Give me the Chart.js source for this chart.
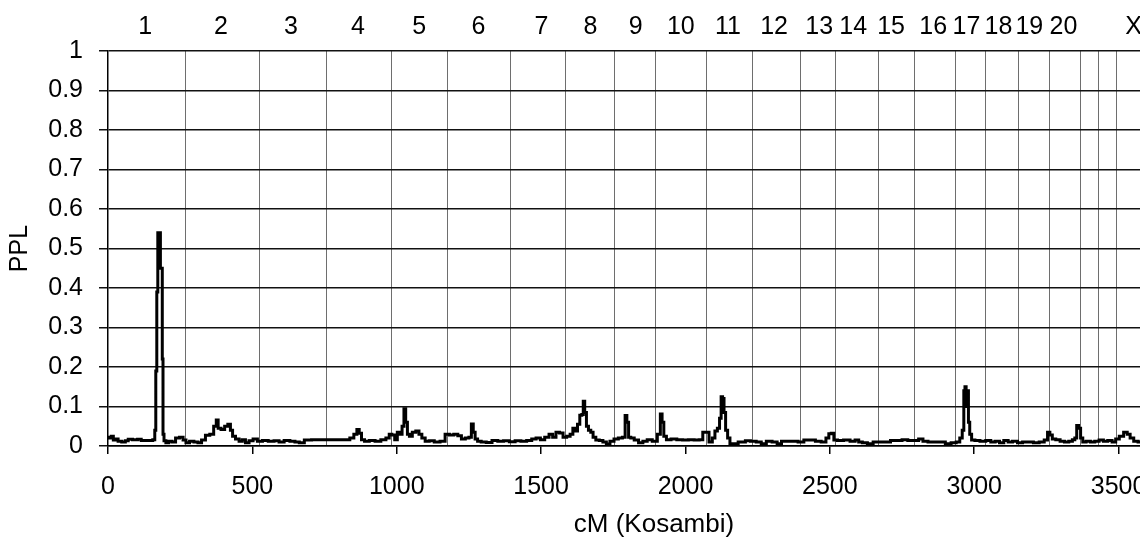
<!DOCTYPE html>
<html>
<head>
<meta charset="utf-8">
<script src="https://cdn.jsdelivr.net/npm/chart.js@4.4.1/dist/chart.umd.min.js"></script>
<style>
  html, body { margin: 0; padding: 0; background: #fff; overflow: hidden; }
  #wrap { position: relative; width: 1200px; height: 542px; }
</style>
</head>
<body>
<div id="wrap"><canvas id="pplChart"></canvas></div>
<script>
// map position (cM, Kosambi) and posterior probability of linkage
const cm = [
  0, 8, 15, 22, 30, 40, 55, 65, 75, 95, 110, 120, 150, 160, 164, 167, 171, 174, 180, 183,
  187, 189, 192, 196, 205, 215, 228, 240, 255, 265, 275, 290, 305, 318, 330, 345, 360, 372, 378, 385,
  398, 410, 420, 428, 435, 448, 460, 470, 482, 495, 510, 525, 545, 565, 585, 600, 620, 640, 655, 670,
  690, 720, 760, 800, 830, 845, 858, 866, 874, 882, 895, 915, 935, 955, 970, 978, 988, 998, 1006, 1015,
  1022, 1028, 1034, 1040, 1048, 1060, 1072, 1082, 1092, 1105, 1120, 1140, 1160, 1175, 1190, 1205, 1218, 1230, 1245, 1255,
  1262, 1268, 1275, 1285, 1300, 1320, 1340, 1360, 1380, 1400, 1420, 1440, 1460, 1475, 1490, 1505, 1520, 1535, 1545, 1558,
  1570, 1582, 1595, 1606, 1614, 1622, 1630, 1638, 1644, 1648, 1654, 1660, 1668, 1676, 1684, 1695, 1708, 1720, 1732, 1745,
  1760, 1775, 1788, 1794, 1800, 1806, 1815, 1830, 1845, 1860, 1875, 1895, 1910, 1916, 1922, 1928, 1940, 1960, 1980, 2000,
  2020, 2040, 2055, 2065, 2075, 2088, 2098, 2106, 2115, 2121, 2126, 2131, 2136, 2142, 2150, 2158, 2175, 2190, 2200, 2215,
  2235, 2255, 2270, 2290, 2310, 2325, 2340, 2360, 2380, 2400, 2420, 2440, 2460, 2480, 2493, 2500, 2510, 2518, 2535, 2560,
  2580, 2595, 2605, 2620, 2640, 2660, 2680, 2700, 2720, 2740, 2760, 2780, 2800, 2815, 2830, 2850, 2870, 2890, 2910, 2930,
  2945, 2955, 2962, 2966, 2970, 2974, 2978, 2982, 2987, 2995, 3010, 3030, 3050, 3065, 3080, 3095, 3110, 3125, 3140, 3160,
  3175, 3195, 3215, 3235, 3250, 3258, 3266, 3275, 3290, 3305, 3320, 3335, 3345, 3352, 3358, 3365, 3372, 3380, 3395, 3410,
  3425, 3440, 3455, 3470, 3485, 3495, 3510, 3525, 3535, 3545, 3560, 3575, 3590
];
const ppl = [
  0.022, 0.02, 0.025, 0.015, 0.018, 0.012, 0.01, 0.013, 0.017, 0.016, 0.017, 0.014, 0.014, 0.016, 0.04, 0.19, 0.39, 0.54, 0.54, 0.45,
  0.45, 0.22, 0.03, 0.013, 0.008, 0.012, 0.01, 0.02, 0.022, 0.015, 0.008, 0.012, 0.01, 0.008, 0.015, 0.027, 0.03, 0.05, 0.066, 0.045,
  0.042, 0.05, 0.055, 0.04, 0.025, 0.018, 0.012, 0.016, 0.008, 0.013, 0.018, 0.012, 0.014, 0.012, 0.013, 0.01, 0.014, 0.012, 0.01, 0.008,
  0.015, 0.016, 0.016, 0.016, 0.016, 0.02, 0.03, 0.042, 0.032, 0.016, 0.012, 0.014, 0.012, 0.016, 0.02, 0.03, 0.028, 0.016, 0.035, 0.03,
  0.05, 0.094, 0.06, 0.03, 0.025, 0.035, 0.038, 0.03, 0.02, 0.012, 0.013, 0.01, 0.012, 0.03, 0.028, 0.03, 0.026, 0.018, 0.02, 0.022,
  0.056, 0.035, 0.018, 0.012, 0.01, 0.009, 0.014, 0.012, 0.013, 0.011, 0.013, 0.012, 0.014, 0.018, 0.02, 0.016, 0.022, 0.03, 0.022, 0.035,
  0.033, 0.022, 0.025, 0.03, 0.045, 0.038, 0.055, 0.078, 0.08, 0.113, 0.085, 0.05, 0.04, 0.035, 0.022, 0.015, 0.014, 0.01, 0.005, 0.012,
  0.018, 0.02, 0.022, 0.077, 0.06, 0.022, 0.02, 0.015, 0.008, 0.012, 0.016, 0.012, 0.03, 0.081, 0.06, 0.025, 0.016, 0.018, 0.016, 0.015,
  0.016, 0.015, 0.016, 0.035, 0.035, 0.01, 0.02, 0.038, 0.045, 0.07, 0.125, 0.12, 0.085, 0.04, 0.02, 0.006, 0.006, 0.01, 0.01, 0.013,
  0.012, 0.01, 0.006, 0.012, 0.01, 0.006, 0.012, 0.012, 0.012, 0.01, 0.015, 0.015, 0.012, 0.01, 0.02, 0.031, 0.032, 0.015, 0.014, 0.015,
  0.012, 0.015, 0.01, 0.008, 0.006, 0.01, 0.01, 0.01, 0.014, 0.014, 0.016, 0.014, 0.014, 0.018, 0.012, 0.01, 0.01, 0.01, 0.006, 0.008,
  0.01, 0.02, 0.04, 0.14, 0.15, 0.1, 0.14, 0.06, 0.03, 0.015, 0.014, 0.012, 0.014, 0.01, 0.012, 0.008, 0.014, 0.01, 0.012, 0.008,
  0.01, 0.01, 0.008, 0.01, 0.015, 0.035, 0.028, 0.018, 0.016, 0.012, 0.01, 0.012, 0.016, 0.02, 0.052, 0.045, 0.02, 0.01, 0.012, 0.01,
  0.012, 0.015, 0.012, 0.014, 0.01, 0.018, 0.025, 0.035, 0.03, 0.02, 0.012, 0.01, 0.012
];

// chromosome boundaries (cM) and where each chromosome name sits
const chromBounds = [269, 524, 756, 982, 1177, 1393, 1583, 1753, 1896, 2073, 2232, 2398, 2519, 2668, 2793, 2936, 3039, 3154, 3260, 3369, 3430, 3493];
const chromLabels = ['1', '2', '3', '4', '5', '6', '7', '8', '9', '10', '11', '12', '13', '14', '15', '16', '17', '18', '19', '20', 'X'];
const chromCenters = [129, 391, 634, 866, 1078, 1283, 1501, 1671, 1828, 1984, 2147, 2307, 2463, 2581, 2712, 2858, 2973, 3084, 3191, 3309, 3552];

const xTicks = [0, 500, 1000, 1500, 2000, 2500, 3000, 3500];
const xMax = 3782;

const FONT = { family: "'Liberation Sans', Arial, sans-serif", size: 25 };

var ctx = document.getElementById('pplChart').getContext('2d');

const points = cm.map((x, i) => ({ x: x, y: ppl[i] }));

const pplChart = new Chart(ctx, {
    type: 'line',
    data: {
        datasets: [{
            label: 'PPL',
            data: points,
            borderColor: '#000',
            borderWidth: 3,
            pointRadius: 0,
            stepped: 'middle',
            xAxisID: 'x',
            yAxisID: 'y'
        }]
    },
    options: {
        responsive: true,
        maintainAspectRatio: false,
        animation: false,
        layout: { padding: 0 },
        plugins: {
            legend: { display: false },
            tooltip: { enabled: false }
        },
        scales: {
            x: {
                type: 'linear',
                position: 'bottom',
                min: 0,
                max: xMax,
                afterBuildTicks: (axis) => { axis.ticks = xTicks.map(v => ({ value: v })); },
                afterFit: (axis) => { axis.height = 96; },
                ticks: {
                    color: '#000',
                    font: FONT,
                    padding: 18,
                    maxRotation: 0,
                    autoSkip: false,
                    callback: (v) => String(v)
                },
                grid: { drawOnChartArea: false, tickLength: 8, color: '#000', lineWidth: 1.5 },
                border: { color: '#000', width: 1.5 },
                title: {
                    display: true,
                    text: 'cM (Kosambi)',
                    color: '#000',
                    font: { family: FONT.family, size: 26 },
                    padding: { top: 0, bottom: 2 }
                }
            },
            chrom: {
                type: 'linear',
                position: 'top',
                min: 0,
                max: xMax,
                afterBuildTicks: (axis) => {
                    axis.ticks = chromBounds.concat(chromCenters).sort((a, b) => a - b).map(v => ({ value: v }));
                },
                afterFit: (axis) => { axis.height = 51; },
                ticks: {
                    color: '#000',
                    font: FONT,
                    padding: 9,
                    maxRotation: 0,
                    autoSkip: false,
                    callback: (v) => {
                        const i = chromCenters.indexOf(v);
                        return i >= 0 ? chromLabels[i] : '';
                    }
                },
                grid: {
                    drawTicks: false,
                    lineWidth: 1,
                    color: (c) => (c.tick && chromBounds.includes(c.tick.value)) ? '#6e6e6e' : 'rgba(0,0,0,0)'
                },
                border: { display: false }
            },
            y: {
                min: 0,
                max: 1,
                afterFit: (axis) => { axis.width = 108; },
                ticks: {
                    stepSize: 0.1,
                    color: '#000',
                    font: FONT,
                    padding: 16,
                    callback: (v) => String(+v.toFixed(1))
                },
                grid: { color: '#111', lineWidth: 1.5, tickLength: 9 },
                border: { color: '#000', width: 1.5 },
                title: {
                    display: true,
                    text: 'PPL',
                    color: '#000',
                    font: FONT,
                    padding: { top: 5, bottom: 0 }
                }
            }
        }
    }
});
</script>
</body>
</html>
